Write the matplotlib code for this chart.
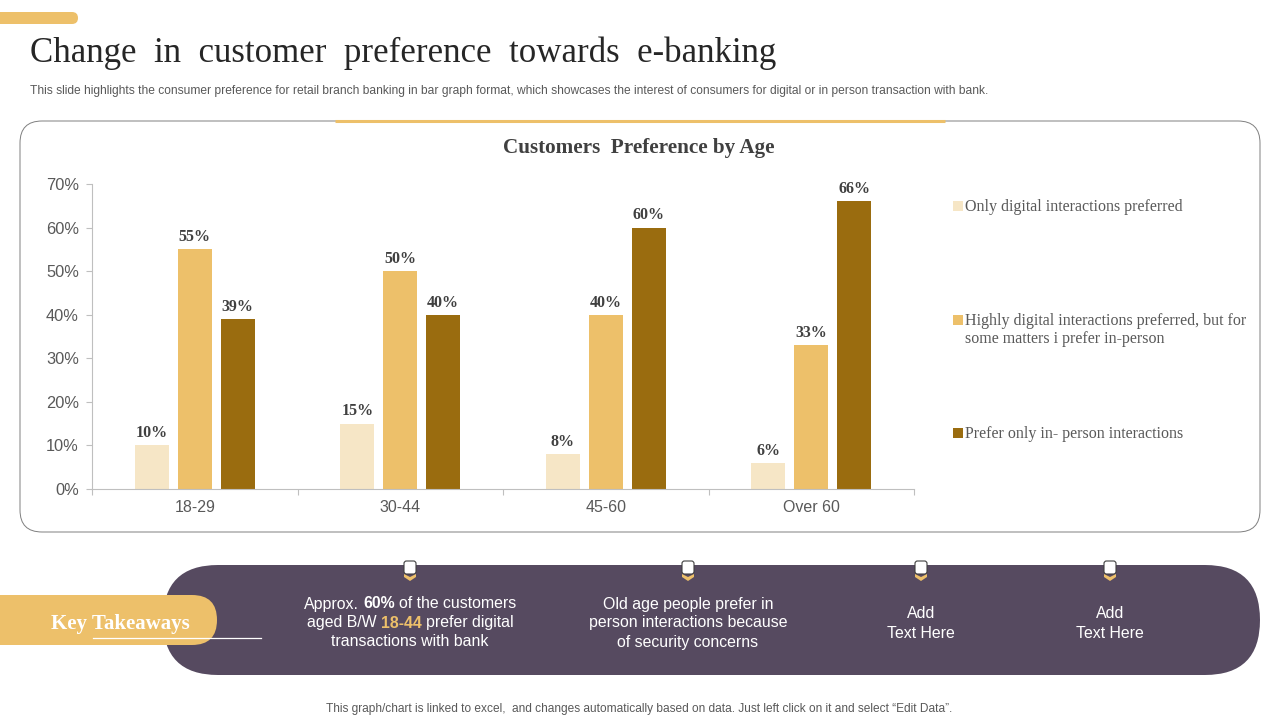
"""
客户偏好变化幻灯片 — 按年龄分组的柱状图
功能：
  1. 绘制页面背景、标题与圆角面板
  2. 绘制三组柱状图及图例
  3. 绘制底部要点条并输出 out.png
"""
import numpy as np
import matplotlib
matplotlib.use('Agg')
import matplotlib.pyplot as plt
from matplotlib.patches import FancyBboxPatch, Polygon, Rectangle

plt.rcParams['font.family'] = 'sans-serif'
plt.rcParams['font.sans-serif'] = ['Liberation Sans', 'DejaVu Sans']
plt.rcParams['axes.unicode_minus'] = False

SERIF = 'Liberation Serif'
GOLD = '#EDC06A'
PURPLE = '#564A60'

age_groups = ['18-29', '30-44', '45-60', 'Over 60']
only_digital = [10, 15, 8, 6]
highly_digital = [55, 50, 40, 33]
in_person = [39, 40, 60, 66]
y_ticks = [0, 10, 20, 30, 40, 50, 60, 70]

series_labels = [
    ['Only digital interactions preferred'],
    ['Highly digital interactions preferred, but for',
     'some matters i prefer in-person'],
    ['Prefer only in- person interactions'],
]
series_colors = ['#F6E6C6', GOLD, '#9A6C0F']


def draw_page(bg):
    """标题、说明文字与面板"""
    bg.add_patch(FancyBboxPatch((-30, 12), 108, 12, boxstyle='round,pad=0,rounding_size=6',
                                fc=GOLD, ec='none'))
    bg.text(30, 53, 'Change  in  customer  preference  towards  e-banking', family=SERIF,
            fontsize=25.1, color='#262626', va='center')
    bg.text(30, 91, 'This slide highlights the consumer preference for retail branch banking in bar '
            'graph format, which showcases the interest of consumers for digital or in person '
            'transaction with bank.', fontsize=8.65, color='#595959', va='center')

    bg.add_patch(FancyBboxPatch((20, 121), 1240, 411, boxstyle='round,pad=0,rounding_size=22',
                                fc='white', ec='#7F7F7F', lw=0.7))
    bg.plot([335, 945], [121, 121], color=GOLD, lw=2.2, solid_capstyle='butt')
    bg.text(639, 148, 'Customers  Preference by Age', family=SERIF, fontsize=15.2,
            fontweight='bold', color='#404040', ha='center', va='center')

    bg.text(639, 709, 'This graph/chart is linked to excel,  and changes automatically based on data. '
            'Just left click on it and select \u201cEdit Data\u201d.', fontsize=8.55,
            color='#595959', ha='center', va='center')


def draw_chart(ax):
    """柱状图"""
    x = np.arange(len(age_groups))
    width = 0.166
    offset = 0.209

    for i, values in enumerate([only_digital, highly_digital, in_person]):
        bars = ax.bar(x + (i - 1) * offset, values, width, color=series_colors[i])
        ax.bar_label(bars, fmt='%d%%', padding=3, family=SERIF, fontsize=11.5,
                     fontweight='bold', color='#404040')

    ax.set_xlim(-0.5, 3.5)
    ax.set_ylim(0, 70)
    ax.set_yticks(y_ticks)
    ax.set_yticklabels([f'{v}%' for v in y_ticks], fontsize=11.8, color='#595959')
    ax.set_xticks(np.arange(-0.5, 4))   # 刻度线在分组边界上
    ax.set_xticklabels([])
    ax.set_xticks(x, minor=True)
    ax.set_xticklabels(age_groups, minor=True, fontsize=11.5, color='#595959')
    ax.tick_params(axis='x', which='minor', length=0, pad=8)
    ax.tick_params(axis='both', which='major', color='#BFBFBF', length=4, width=0.8)
    ax.tick_params(axis='y', pad=5.5)
    ax.spines['top'].set_visible(False)
    ax.spines['right'].set_visible(False)
    ax.spines['left'].set_color('#BFBFBF')
    ax.spines['bottom'].set_color('#BFBFBF')
    ax.patch.set_alpha(0)


def draw_legend(bg):
    """图例（每项手动定位，间距与原图一致）"""
    rows = [206, 320, 433]
    for top, lines, color in zip(rows, series_labels, series_colors):
        bg.add_patch(Rectangle((953, top - 5), 10, 10, fc=color, ec='none'))
        for k, line in enumerate(lines):
            bg.text(965, top + 1 + k * 18, line, family=SERIF, fontsize=11.55,
                    color='#595959', va='center')


def text_runs(fig, bg, cx, y, runs):
    """一行内混排粗体/彩色文字，整体以 cx 居中"""
    renderer = fig.canvas.get_renderer()
    space = 4.4
    items = []
    total = 0.0
    for s, weight, color in runs:
        t = bg.text(0, y + 1, s, fontsize=11.45, fontweight=weight, color=color, va='center')
        w = t.get_window_extent(renderer).width
        items.append((t, w))
        total += w
    total += space * (len(runs) - 1)
    left = cx - total / 2
    for t, w in items:
        t.set_x(left)
        left += w + space


def draw_takeaways(fig, bg):
    """底部要点条"""
    bg.add_patch(FancyBboxPatch((163, 565), 1097, 110, boxstyle='round,pad=0,rounding_size=55',
                                fc=PURPLE, ec='none'))
    bg.add_patch(FancyBboxPatch((-60, 595), 277, 50, boxstyle='round,pad=0,rounding_size=25',
                                fc=GOLD, ec='none'))
    bg.plot([93, 261], [638, 638], color='white', lw=0.9)
    bg.text(120, 624, 'Key Takeaways', family=SERIF, fontsize=15, fontweight='bold',
            color='white', ha='center', va='center')

    # 四个小标记
    for cx in [410, 688, 921, 1110]:
        bg.add_patch(FancyBboxPatch((cx - 6, 561), 12, 13, boxstyle='round,pad=0,rounding_size=2.5',
                                    fc='white', ec='#3F3F3F', lw=0.8))
        bg.add_patch(Polygon([(cx - 6, 574), (cx, 577), (cx + 6, 574), (cx + 6, 577),
                              (cx, 581), (cx - 6, 577)], fc=GOLD, ec='none'))

    w = 'white'
    text_runs(fig, bg, 410, 603, [('Approx.', 'normal', w), ('60%', 'bold', w),
                                  ('of the customers', 'normal', w)])
    text_runs(fig, bg, 410, 622, [('aged B/W', 'normal', w), ('18-44', 'bold', GOLD),
                                  ('prefer digital', 'normal', w)])
    text_runs(fig, bg, 410, 641, [('transactions with bank', 'normal', w)])

    text_runs(fig, bg, 688, 603, [('Old age people prefer in', 'normal', w)])
    text_runs(fig, bg, 688, 622, [('person interactions because', 'normal', w)])
    text_runs(fig, bg, 688, 641, [('of security concerns', 'normal', w)])

    for cx in [921, 1110]:
        text_runs(fig, bg, cx, 613, [('Add', 'normal', w)])
        text_runs(fig, bg, cx, 632, [('Text Here', 'normal', w)])


if __name__ == "__main__":
    fig = plt.figure(figsize=(12.8, 7.2), dpi=100, facecolor='white')

    # 背景层用像素坐标
    bg = fig.add_axes([0, 0, 1, 1])
    bg.set_xlim(0, 1280)
    bg.set_ylim(720, 0)
    bg.axis('off')

    ax = fig.add_axes([92 / 1280, (720 - 489) / 720, 822 / 1280, 305 / 720])

    draw_page(bg)
    draw_chart(ax)
    draw_legend(bg)
    draw_takeaways(fig, bg)

    fig.savefig('out.png', dpi=100)
    plt.close(fig)
